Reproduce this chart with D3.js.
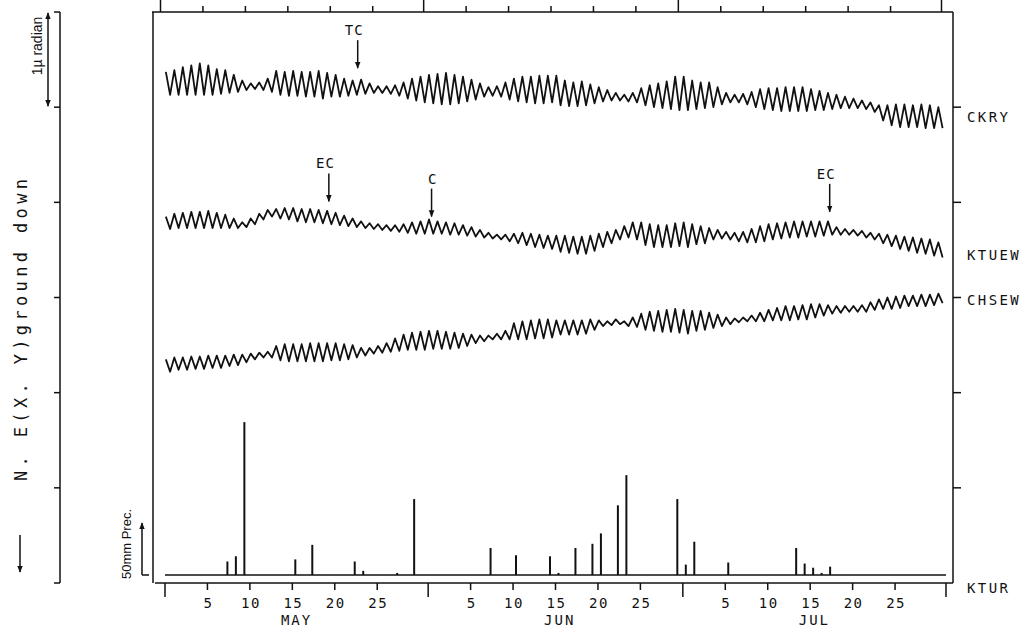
<!DOCTYPE html>
<html><head><meta charset="utf-8">
<script src="https://cdn.jsdelivr.net/npm/d3@7"></script>
<style>body{margin:0;background:#fff}svg{display:block}text{font-family:"DejaVu Sans Mono",monospace;fill:#111}</style>
</head><body><svg id="c" width="1027" height="630"></svg>
<script>
// ---- data (tilt in 0.01 µrad relative to each record's reference level; day 0 = May 1) ----
const ckryBase = 5, ktuewBase = 3.5, chsewBase = 3;
const ckryPeak = [37,39,42,44,46,44,40,39,34,28,25,26,30,38,37,38,37,37,38,36,34,30,28,29,25,22,22,23,26,30,32,34,35,36,34,32,29,25,21,22,26,30,32,32,33,33,33,28,26,27,24,21,18,15,13,15,20,23,25,27,32,32,28,26,26,21,15,13,14,16,19,20,20,21,21,21,19,17,15,13,11,9,7,5,2,2,3,3,2,3,2,0];
const ckryTrough = [13,13,13,13,13,13,14,15,16,18,19,18,16,13,12,12,11,11,9,11,11,12,13,14,15,15,14,12,9,7,5,4,3,3,4,6,8,11,12,11,8,6,5,4,4,5,2,1,1,2,4,6,7,7,6,5,2,0,-1,-2,-3,-3,-2,-1,0,3,5,5,3,0,-2,-3,-4,-4,-4,-4,-3,-3,-2,-1,-1,-1,-2,-5,-14,-19,-21,-21,-21,-22,-22,-22];
const ktuewPeak = [35,38,39,40,40,41,39,37,33,29,33,38,42,43,44,44,43,43,42,41,39,36,33,30,28,27,26,26,27,29,30,32,30,29,28,26,24,21,18,16,16,17,18,17,16,15,15,15,14,14,15,17,19,21,25,29,29,27,26,26,28,29,27,25,23,21,19,18,19,22,25,27,28,29,30,30,30,30,30,24,22,21,20,18,17,16,15,14,13,12,11,8];
const ktuewTrough = [22,23,23,23,23,23,23,23,23,24,27,32,35,33,32,30,29,29,28,27,26,25,24,23,22,21,20,19,18,17,17,17,17,16,16,15,14,13,12,11,9,7,5,3,2,1,-2,-3,-4,-4,-1,3,7,11,13,11,5,3,3,3,4,3,6,7,11,12,11,9,8,8,9,11,12,13,13,14,14,15,16,16,16,15,13,11,7,4,1,-1,-3,-4,-6,-8];
const chsewPeak = [-65,-63,-63,-62,-62,-61,-61,-61,-60,-60,-59,-58,-57,-51,-49,-49,-49,-48,-48,-48,-48,-49,-50,-53,-53,-51,-48,-43,-39,-37,-36,-35,-35,-36,-37,-38,-39,-40,-40,-38,-35,-27,-25,-24,-23,-23,-24,-24,-24,-24,-23,-24,-25,-23,-25,-21,-17,-15,-14,-13,-12,-13,-14,-14,-16,-18,-21,-22,-21,-19,-16,-13,-11,-9,-9,-8,-7,-7,-8,-9,-9,-9,-8,-5,-2,0,1,2,2,3,3,4];
const chsewTrough = [-78,-76,-76,-75,-75,-74,-74,-72,-71,-68,-65,-63,-63,-66,-67,-67,-67,-67,-67,-66,-66,-65,-63,-61,-59,-58,-57,-56,-55,-55,-55,-54,-54,-54,-53,-51,-48,-46,-44,-44,-44,-44,-44,-43,-43,-42,-39,-39,-39,-38,-34,-30,-29,-28,-30,-31,-34,-35,-36,-36,-37,-38,-35,-34,-32,-30,-28,-26,-25,-25,-25,-24,-24,-24,-23,-23,-21,-19,-17,-16,-15,-15,-15,-13,-12,-12,-11,-9,-9,-9,-8,-6];
// precipitation at KTUR (mm), day index from May 1
const precDay = [7,8,9,15,17,22,23,27,29,38,41,45,46,48,50,51,53,54,60,61,62,66,74,75,76,77,78];
const precMM  = [13,18,147,15,29,13,4,2,73,26,19,18,2,26,30,40,67,96,73,10,32,12,26,11,7,2,8];
// axis labels
const months = ["MAY","JUN","JUL"];
const monthStart = [0,31,61,92];
const dayTicks = [5,10,15,20,25];
const recordNames = ["CKRY","KTUEW","CHSEW","KTUR"];
const annLabels = ["TC","EC","C","EC"];
const annDay = [22.7,19.3,31.4,78.3];
const annTip = [5.41,4.01,3.85,3.9];

// ---- scales ----
const svg = d3.select("#c");
const x = d3.scaleLinear().domain([0,92]).range([165,946]);
const y = d3.scaleLinear().domain([0,6]).range([583,12]);
const yp = d3.scaleLinear().domain([0,50]).range([575,523]);
const ink = "#111";

// ---- frame ----
const frame = svg.append("g").attr("stroke",ink).attr("fill","none").attr("stroke-width",1.5);
frame.append("line").attr("x1",153).attr("x2",153).attr("y1",y(6)).attr("y2",y(0));
frame.append("line").attr("x1",953).attr("x2",953).attr("y1",y(6)).attr("y2",y(0));
frame.append("line").attr("x1",152).attr("x2",953).attr("y1",y(6)).attr("y2",y(6));
frame.append("line").attr("x1",155).attr("x2",953).attr("y1",y(0)).attr("y2",y(0));

// bottom & top ticks
const minor = [];
monthStart.slice(0,3).forEach(m => dayTicks.forEach(d => minor.push(m+d)));
const gBottom = svg.append("g").attr("stroke",ink).attr("stroke-width",1.5);
gBottom.selectAll(".mn").data(minor).join("line").attr("x1",d=>x(d)).attr("x2",d=>x(d)).attr("y1",y(0)).attr("y2",y(0)+7);
gBottom.selectAll(".mj").data(monthStart).join("line").attr("x1",d=>x(d)).attr("x2",d=>x(d)).attr("y1",y(0)).attr("y2",y(0)+14);
const gTop = svg.append("g").attr("stroke",ink).attr("stroke-width",1.5).attr("transform","translate(-4.5,0)");
gTop.selectAll(".mn").data(minor).join("line").attr("x1",d=>x(d)).attr("x2",d=>x(d)).attr("y1",y(6)).attr("y2",y(6)-6);
gTop.selectAll(".mj").data(monthStart).join("line").attr("x1",d=>x(d)).attr("x2",d=>x(d)).attr("y1",y(6)).attr("y2",0);

svg.selectAll(".dl").data(minor).join("text").attr("x",d=>x(d)+1).attr("y",608)
  .attr("text-anchor","middle").attr("font-size",14).attr("letter-spacing",1.5)
  .text((d,i)=>dayTicks[i%5]);
svg.selectAll(".ml").data(months).join("text").attr("x",(d,i)=>x(monthStart[i]+15.5)).attr("y",625)
  .attr("text-anchor","middle").attr("font-size",14).attr("letter-spacing",2).text(d=>d);

// right axis ticks and record names
svg.selectAll(".rt").data([1,2,3,4,5]).join("line").attr("stroke",ink).attr("stroke-width",1.5)
  .attr("x1",953).attr("x2",961).attr("y1",d=>y(d)).attr("y2",d=>y(d));
const nameY = [y(5)+15, y(3.5)+10, y(3)+7, yp(0)+18];
svg.selectAll(".rn").data(recordNames).join("text").attr("x",967).attr("y",(d,i)=>nameY[i])
  .attr("font-size",14).attr("letter-spacing",2.4).text(d=>d);

// left axis
const la = svg.append("g").attr("stroke",ink).attr("stroke-width",1.5);
la.append("line").attr("x1",60).attr("x2",60).attr("y1",y(6)).attr("y2",y(0));
la.selectAll("line.t").data([0,1,2,3,4,5,6]).join("line").attr("class","t").attr("x1",54).attr("x2",60).attr("y1",d=>y(d)).attr("y2",d=>y(d));
// arrow marker
const defs = svg.append("defs");
defs.append("marker").attr("id","ah").attr("viewBox","0 0 10 10").attr("refX",9).attr("refY",5)
  .attr("markerWidth",7).attr("markerHeight",7).attr("markerUnits","userSpaceOnUse").attr("orient","auto-start-reverse")
  .append("path").attr("d","M0,1 L10,5 L0,9 Z").attr("fill",ink);
svg.append("line").attr("x1",48).attr("x2",48).attr("y1",y(6)+1).attr("y2",y(5)-1).attr("stroke",ink).attr("stroke-width",1.5)
  .attr("marker-start","url(#ah)").attr("marker-end","url(#ah)");
svg.append("text").attr("transform",`translate(42,46) rotate(-90)`).attr("text-anchor","middle")
  .style("font-family","'Liberation Sans',Arial,sans-serif").attr("font-size",14).text("1\u00b5 radian");
svg.append("text").attr("transform","translate(27,330) rotate(-90)").attr("text-anchor","middle")
  .attr("font-size",17).attr("textLength",302).attr("lengthAdjust","spacing").text("N. E(X. Y)ground down");
svg.append("line").attr("x1",20).attr("x2",20).attr("y1",535).attr("y2",572).attr("stroke",ink).attr("stroke-width",1.5).attr("marker-end","url(#ah)");
// 50mm precipitation scale
svg.append("text").attr("transform",`translate(131,544) rotate(-90)`).attr("text-anchor","middle")
  .style("font-family","'Liberation Sans',Arial,sans-serif").attr("font-size",13).text("50mm Prec.");
svg.append("line").attr("x1",142).attr("x2",142).attr("y1",yp(0)).attr("y2",yp(50)).attr("stroke",ink).attr("stroke-width",1.5).attr("marker-end","url(#ah)");
svg.append("line").attr("x1",142).attr("x2",149).attr("y1",yp(0)).attr("y2",yp(0)).attr("stroke",ink).attr("stroke-width",1.5);

// ---- tilt records ----
function pts(base, peak, trough){
  const out = [];
  peak.forEach((p,d)=>{ out.push([d+0.1, base+p/100]); out.push([d+0.6, base+trough[d]/100]); });
  return out;
}
const line = d3.line().x(d=>x(d[0])).y(d=>y(d[1])).curve(d3.curveLinear);
[[ckryBase,ckryPeak,ckryTrough],[ktuewBase,ktuewPeak,ktuewTrough],[chsewBase,chsewPeak,chsewTrough]].forEach(s=>{
  svg.append("path").attr("d",line(pts(...s))).attr("fill","none").attr("stroke",ink).attr("stroke-width",1.8).attr("stroke-linejoin","round");
});

// ---- precipitation ----
svg.append("line").attr("x1",x(0)).attr("x2",x(92)).attr("y1",yp(0)).attr("y2",yp(0)).attr("stroke",ink).attr("stroke-width",1.6);
svg.selectAll(".pb").data(precMM).join("line").attr("stroke",ink).attr("stroke-width",2)
  .attr("x1",(d,i)=>x(precDay[i]+0.35)).attr("x2",(d,i)=>x(precDay[i]+0.35)).attr("y1",yp(0)).attr("y2",d=>yp(d));

// ---- annotations ----
annLabels.forEach((lab,i)=>{
  const ax = x(annDay[i]), ty = y(annTip[i]);
  svg.append("line").attr("x1",ax).attr("x2",ax).attr("y1",ty-28).attr("y2",ty).attr("stroke",ink).attr("stroke-width",1.5).attr("marker-end","url(#ah)");
  svg.append("text").attr("x",ax+6).attr("y",ty-33).attr("text-anchor","end").attr("font-size",14).attr("letter-spacing",1).text(lab);
});
</script></body></html>
